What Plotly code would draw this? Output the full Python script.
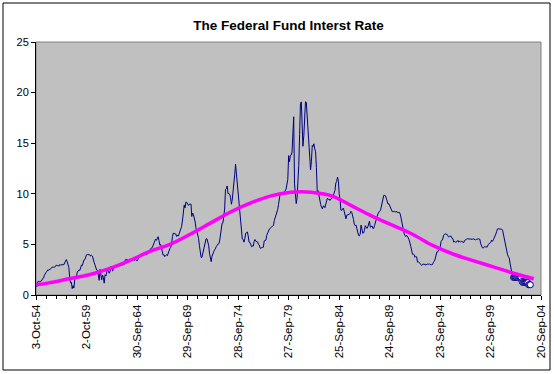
import pandas as pd
import plotly.graph_objects as go

# Monthly federal funds rate, Oct 1954 .. Dec 2001 (plain line)
rate_line = [
    0.85, 0.83, 1.28,
    1.39, 1.29, 1.35, 1.43, 1.43, 1.64, 1.68, 1.96, 2.18, 2.24, 2.35, 2.48,
    2.45, 2.50, 2.50, 2.62, 2.75, 2.71, 2.75, 2.73, 2.95, 2.96, 2.88, 2.94,
    2.84, 3.00, 2.96, 3.00, 3.00, 3.00, 2.99, 3.24, 3.47, 3.50, 3.28, 2.98,
    2.72, 1.67, 1.20, 1.26, 0.63, 0.93, 0.68, 1.53, 1.76, 1.80, 2.27, 2.42,
    2.48, 2.43, 2.80, 2.96, 2.90, 3.39, 3.47, 3.50, 3.76, 3.98, 4.00, 3.99,
    3.99, 3.97, 3.84, 3.92, 3.85, 3.32, 3.23, 2.98, 2.60, 2.47, 2.44, 1.98,
    1.45, 2.54, 2.02, 1.49, 1.98, 1.73, 1.17, 2.00, 1.88, 2.26, 2.62, 2.33,
    2.15, 2.37, 2.85, 2.78, 2.36, 2.68, 2.71, 2.93, 2.90, 2.90, 2.94, 2.93,
    2.92, 3.00, 2.98, 2.90, 3.00, 2.99, 3.02, 3.49, 3.48, 3.50, 3.48, 3.38,
    3.48, 3.48, 3.43, 3.47, 3.50, 3.50, 3.42, 3.50, 3.45, 3.36, 3.52, 3.85,
    3.90, 3.98, 4.04, 4.09, 4.10, 4.04, 4.09, 4.12, 4.01, 4.08, 4.10, 4.32,
    4.42, 4.60, 4.65, 4.67, 4.90, 5.17, 5.30, 5.53, 5.40, 5.53, 5.76, 5.40,
    4.94, 5.00, 4.53, 4.05, 3.94, 3.98, 3.79, 3.90, 3.99, 3.88, 4.13, 4.51,
    4.61, 4.71, 5.05, 5.76, 6.11, 6.07, 6.02, 6.03, 5.78, 5.91, 5.82, 6.02,
    6.30, 6.61, 6.79, 7.41, 8.67, 8.90, 8.61, 9.19, 9.15, 9.00, 8.85, 8.97,
    8.98, 8.98, 7.76, 8.10, 7.95, 7.61, 7.21, 6.61, 6.29, 6.20, 5.60, 4.90,
    4.14, 3.72, 3.71, 4.16, 4.63, 4.91, 5.31, 5.56, 5.55, 5.20, 4.91, 4.14,
    3.50, 3.29, 3.83, 4.17, 4.27, 4.46, 4.55, 4.80, 4.87, 5.04, 5.06, 5.33,
    5.94, 6.58, 7.09, 7.12, 7.84, 8.49, 10.40, 10.50, 10.78, 10.01, 10.03, 9.95,
    9.65, 8.97, 9.35, 10.51, 11.31, 11.93, 12.92, 12.01, 11.34, 10.06, 9.45, 8.53,
    7.13, 6.24, 5.54, 5.49, 5.22, 5.55, 6.10, 6.14, 6.24, 5.82, 5.22, 5.20,
    4.87, 4.77, 4.84, 4.82, 5.29, 5.48, 5.31, 5.29, 5.25, 5.02, 4.95, 4.65,
    4.61, 4.68, 4.69, 4.73, 5.35, 5.39, 5.42, 5.90, 6.14, 6.47, 6.51, 6.56,
    6.70, 6.78, 6.79, 6.89, 7.36, 7.60, 7.81, 8.04, 8.45, 8.96, 9.76, 10.03,
    10.07, 10.06, 10.09, 10.01, 10.24, 10.29, 10.47, 10.94, 11.43, 13.77, 13.18, 13.78,
    13.82, 14.13, 17.19, 17.61, 10.98, 9.47, 9.03, 9.61, 10.87, 12.81, 15.85, 18.90,
    19.08, 15.93, 14.70, 15.72, 18.52, 19.10, 19.04, 17.82, 15.87, 15.08, 13.31, 12.37,
    13.22, 14.78, 14.68, 14.94, 14.45, 14.15, 12.59, 10.12, 10.31, 9.71, 9.20, 8.95,
    8.68, 8.51, 8.77, 8.80, 8.63, 8.98, 9.37, 9.56, 9.45, 9.48, 9.34, 9.47,
    9.56, 9.59, 9.91, 10.29, 10.32, 11.06, 11.23, 11.64, 11.30, 9.99, 9.43, 8.38,
    8.35, 8.50, 8.58, 8.27, 7.97, 7.53, 7.88, 7.90, 7.92, 7.99, 8.05, 8.27,
    8.14, 7.86, 7.48, 6.99, 6.85, 6.92, 6.56, 6.17, 5.89, 5.85, 6.04, 6.91,
    6.43, 6.10, 6.13, 6.37, 6.85, 6.73, 6.58, 6.73, 7.22, 7.29, 6.69, 6.77,
    6.83, 6.58, 6.58, 6.87, 7.09, 7.51, 7.75, 8.01, 8.19, 8.30, 8.35, 8.76,
    9.12, 9.36, 9.85, 9.84, 9.81, 9.53, 9.24, 8.99, 9.02, 8.84, 8.55, 8.45,
    8.23, 8.24, 8.28, 8.26, 8.18, 8.29, 8.15, 8.13, 8.20, 8.11, 7.81, 7.31,
    6.91, 6.25, 6.12, 5.91, 5.78, 5.90, 5.82, 5.66, 5.45, 5.21, 4.81, 4.43,
    4.03, 4.06, 3.98, 3.73, 3.82, 3.76, 3.25, 3.30, 3.22, 3.10, 3.09, 2.92,
    3.02, 3.03, 3.07, 2.96, 3.00, 3.04, 3.06, 3.03, 3.09, 2.99, 3.02, 2.96,
    3.05, 3.25, 3.34, 3.56, 4.01, 4.25, 4.26, 4.47, 4.73, 4.76, 5.29, 5.45,
    5.53, 5.92, 5.98, 6.05, 6.01, 6.00, 5.85, 5.74, 5.80, 5.76, 5.80, 5.60,
    5.56, 5.22, 5.31, 5.22, 5.24, 5.27, 5.40, 5.22, 5.30, 5.24, 5.31, 5.29,
    5.25, 5.19, 5.39, 5.51, 5.50, 5.56, 5.52, 5.54, 5.54, 5.50, 5.52, 5.50,
    5.56, 5.51, 5.49, 5.45, 5.49, 5.56, 5.54, 5.55, 5.51, 5.07, 4.83, 4.68,
    4.63, 4.76, 4.81, 4.74, 4.74, 4.76, 4.99, 5.07, 5.22, 5.20, 5.42, 5.30,
    5.45, 5.73, 5.85, 6.02, 6.27, 6.53, 6.54, 6.50, 6.52, 6.51, 6.51, 6.40,
    5.98, 5.49, 5.31, 4.80, 4.21, 3.97, 3.77, 3.65, 3.07, 2.49, 2.09, 1.82,
]
# Jan 2002 .. Sep 2003 (drawn with markers)
rate_recent = [
    1.73, 1.74, 1.73, 1.75, 1.75, 1.75, 1.73, 1.74, 1.75, 1.75, 1.34, 1.24,
    1.24, 1.26, 1.25, 1.26, 1.26, 1.22, 1.01, 1.03, 1.01,
]
series_start = "1954-10-01"

# Trend line (magenta)
trend_dates = ["1954-10-03", "1956-01-01", "1958-01-01", "1960-01-01", "1962-01-01",
               "1964-01-01", "1966-01-01", "1968-01-01", "1970-01-01", "1972-01-01",
               "1974-01-01", "1976-01-01", "1978-01-01", "1980-01-01", "1981-01-01",
               "1982-01-01", "1984-01-01", "1986-01-01", "1988-01-01", "1990-01-01",
               "1992-01-01", "1994-01-01", "1996-01-01", "1998-01-01", "2000-01-01",
               "2002-01-01", "2004-01-01"]
trend_values = [1.0, 1.2, 1.6, 2.0, 2.6, 3.4, 4.3, 5.0, 6.0, 7.1, 8.2, 9.1, 9.8,
                10.15, 10.2, 10.15, 9.8, 8.8, 7.8, 6.9, 6.0, 4.9, 4.05, 3.4, 2.78,
                2.15, 1.6]

tick_dates = ["1954-10-03", "1959-10-02", "1964-09-30", "1969-09-29", "1974-09-28",
              "1979-09-27", "1984-09-25", "1989-09-24", "1994-09-23", "1999-09-22",
              "2004-09-20"]
tick_labels = ["3-Oct-54", "2-Oct-59", "30-Sep-64", "29-Sep-69", "28-Sep-74",
               "27-Sep-79", "25-Sep-84", "24-Sep-89", "23-Sep-94", "22-Sep-99",
               "20-Sep-04"]

all_rates = rate_line + rate_recent
all_dates = pd.date_range(series_start, periods=len(all_rates), freq="MS")
recent_dates = all_dates[len(rate_line):]

FONT = "Liberation Sans, Arial, sans-serif"
NAVY = "#000080"

fig = go.Figure()
fig.add_trace(go.Scatter(x=all_dates, y=all_rates, mode="lines",
                         line=dict(color=NAVY, width=1), hoverinfo="x+y"))
fig.add_trace(go.Scatter(x=recent_dates, y=rate_recent, mode="markers",
                         marker=dict(symbol="circle", size=6, color="white",
                                     line=dict(color=NAVY, width=1))))
fig.add_trace(go.Scatter(x=trend_dates, y=trend_values, mode="lines",
                         line=dict(color="#FF00FF", width=3.5, shape="spline",
                                   smoothing=1.0)))

L, R, T, B = 36, 13, 42, 79
W, H = 554, 374
pw, ph = W - L - R, H - T - B

fig.update_layout(
    width=W, height=H,
    margin=dict(l=L, r=R, t=T, b=B, autoexpand=False),
    paper_bgcolor="white", plot_bgcolor="#C0C0C0",
    showlegend=False,
    font=dict(family=FONT, size=11, color="black"),
    title=dict(text="<b>The Federal Fund Interst Rate</b>", x=0.5, xref="paper",
               xanchor="center", y=1 - 25 / H, yref="container", yanchor="middle",
               font=dict(family=FONT, size=13.5, color="black")),
    xaxis=dict(type="date", range=[series_start, "2004-09-20"],
               tickmode="array", tickvals=tick_dates, ticktext=tick_labels,
               tickangle=-90, ticks="outside", ticklen=4, tickcolor="black",
               showgrid=False, zeroline=False, showline=True, linecolor="black",
               linewidth=1, automargin=False,
               tickfont=dict(family=FONT, size=11.5, color="black"),
               minor=dict(tickmode="linear", tick0="1954-10-03", dtick="M12",
                          ticks="outside", ticklen=3, tickcolor="black",
                          showgrid=False)),
    yaxis=dict(range=[0, 25], tickmode="linear", tick0=0, dtick=5,
               ticks="outside", ticklen=4, tickcolor="black",
               showgrid=False, zeroline=False, showline=True, linecolor="black",
               linewidth=1, automargin=False,
               tickfont=dict(family=FONT, size=11, color="black")),
)

# plot-area border (gray) and chart-area border (black)
fig.add_shape(type="rect", xref="paper", yref="paper", x0=0, x1=1, y0=0, y1=1,
              line=dict(color="#808080", width=1), layer="below")
fig.add_shape(type="rect", xref="paper", yref="paper",
              x0=(3 - L) / pw, x1=(550 - L) / pw,
              y0=(H - B - 370) / ph, y1=(H - B - 3) / ph,
              line=dict(color="black", width=1))

fig.write_html("out.html",
               config={"displayModeBar": False},
               post_script="document.body.style.margin='0';"
                           "document.body.style.overflow='hidden';")
